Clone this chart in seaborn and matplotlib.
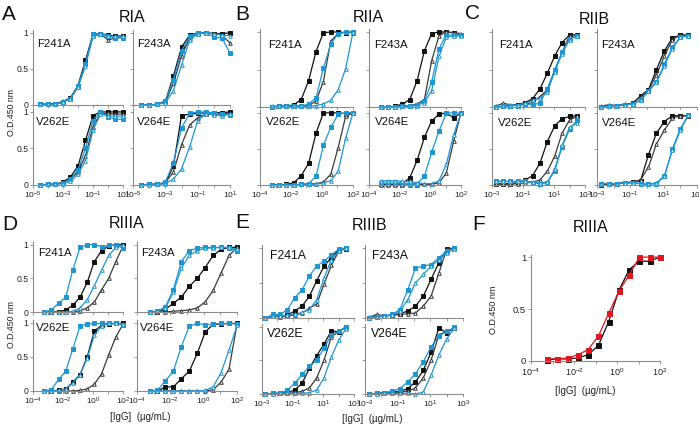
import matplotlib
matplotlib.use("Agg")
import matplotlib.pyplot as plt
import seaborn as sns
from matplotlib import font_manager

W, H = 699, 426

# ---------------- concentrations (ug/mL) ----------------
CONC_A = [0.0000316, 0.0001, 0.000316, 0.001, 0.00316, 0.01, 0.0316, 0.1, 0.316, 1.0, 3.16, 10.0]
CONC_100 = [0.000565, 0.00169, 0.00508, 0.0152, 0.0457, 0.137, 0.412, 1.23, 3.70, 11.1, 33.3, 100.0]
CONC_300 = [0.00169, 0.00508, 0.0152, 0.0457, 0.137, 0.412, 1.23, 3.70, 11.1, 33.3, 100.0, 300.0]

MUTANTS = ["F241A", "F243A", "V262E", "V264E"]
# series order in every sub-panel: black filled, black open, blue filled, blue open

# ---------------- A: RIA ----------------
A_F241A = [[0.01, 0.01, 0.02, 0.04, 0.10, 0.27, 0.62, 0.98, 0.99, 0.97, 0.95, 0.96],
           [0.01, 0.01, 0.02, 0.05, 0.10, 0.25, 0.58, 0.95, 0.99, 0.90, 0.93, 0.95],
           [0.01, 0.01, 0.01, 0.04, 0.09, 0.26, 0.57, 0.99, 0.99, 0.96, 0.93, 0.93],
           [0.01, 0.01, 0.01, 0.04, 0.09, 0.25, 0.54, 0.96, 0.99, 0.95, 0.95, 0.96]]
A_F243A = [[0.0, 0.0, 0.01, 0.05, 0.40, 0.80, 0.97, 1.0, 1.0, 0.99, 0.99, 1.0],
           [0.0, 0.0, 0.01, 0.04, 0.30, 0.68, 0.93, 0.99, 1.0, 0.99, 0.97, 0.86],
           [0.0, 0.0, 0.01, 0.06, 0.35, 0.75, 0.95, 1.0, 1.0, 0.94, 0.93, 0.72],
           [0.0, 0.0, 0.01, 0.03, 0.20, 0.55, 0.90, 0.99, 1.0, 0.99, 0.97, 0.96]]
A_V262E = [[0.0, 0.01, 0.01, 0.04, 0.11, 0.26, 0.61, 0.95, 1.0, 1.0, 1.0, 1.0],
           [0.0, 0.01, 0.01, 0.03, 0.08, 0.18, 0.40, 0.80, 0.98, 0.98, 0.97, 0.97],
           [0.0, 0.01, 0.01, 0.03, 0.08, 0.21, 0.50, 0.88, 1.0, 0.93, 0.90, 0.90],
           [0.0, 0.01, 0.01, 0.02, 0.05, 0.15, 0.33, 0.75, 0.97, 0.95, 0.94, 0.94]]
A_V264E = [[0.0, 0.01, 0.01, 0.03, 0.26, 0.95, 0.97, 0.98, 0.99, 0.99, 0.99, 1.0],
           [0.0, 0.01, 0.01, 0.03, 0.18, 0.55, 0.82, 0.92, 0.97, 0.97, 0.97, 0.98],
           [0.0, 0.01, 0.01, 0.04, 0.30, 0.78, 0.98, 1.0, 1.0, 0.99, 0.97, 0.96],
           [0.0, 0.0, 0.01, 0.02, 0.08, 0.22, 0.52, 0.88, 0.97, 0.96, 0.95, 0.97]]

# ---------------- B: RIIA ----------------
B_F241A = [[0.0, 0.01, 0.01, 0.03, 0.10, 0.35, 0.74, 0.99, 1.0, 1.0, 0.99, 1.0],
           [0.0, 0.01, 0.01, 0.01, 0.01, 0.02, 0.08, 0.34, 0.88, 0.98, 1.0, 0.99],
           [0.0, 0.01, 0.01, 0.01, 0.01, 0.04, 0.12, 0.52, 0.84, 0.98, 1.0, 1.0],
           [0.01, 0.01, 0.01, 0.01, 0.01, 0.01, 0.02, 0.04, 0.09, 0.23, 0.51, 1.0]]
B_F243A = [[0.0, 0.0, 0.01, 0.04, 0.10, 0.35, 0.75, 0.98, 1.0, 1.0, 0.99, 0.96],
           [0.0, 0.0, 0.0, 0.01, 0.02, 0.04, 0.10, 0.62, 0.95, 1.0, 0.99, 0.98],
           [0.0, 0.0, 0.0, 0.01, 0.02, 0.03, 0.08, 0.34, 0.78, 0.96, 0.96, 0.96],
           [0.0, 0.0, 0.0, 0.01, 0.01, 0.02, 0.06, 0.22, 0.68, 0.93, 0.95, 0.95]]
B_V262E = [[0.0, 0.0, 0.01, 0.03, 0.13, 0.30, 0.72, 1.0, 1.0, 1.0, 0.99, 1.0],
           [0.0, 0.0, 0.0, 0.0, 0.01, 0.01, 0.02, 0.04, 0.15, 0.52, 0.95, 1.0],
           [0.0, 0.0, 0.0, 0.0, 0.01, 0.02, 0.12, 0.55, 0.80, 0.98, 1.0, 1.0],
           [0.0, 0.0, 0.0, 0.0, 0.01, 0.01, 0.01, 0.03, 0.06, 0.19, 0.65, 1.0]]
B_V264E = [[0.01, 0.01, 0.01, 0.02, 0.10, 0.34, 0.66, 0.89, 0.98, 1.0, 0.93, 1.0],
           [0.0, 0.0, 0.0, 0.0, 0.0, 0.0, 0.01, 0.01, 0.03, 0.17, 0.61, 1.0],
           [0.03, 0.03, 0.03, 0.03, 0.02, 0.02, 0.12, 0.46, 0.75, 1.0, 1.0, 1.0],
           [0.06, 0.06, 0.06, 0.05, 0.05, 0.03, 0.02, 0.02, 0.06, 0.29, 0.70, 1.0]]

# ---------------- C: RIIB ----------------
C_F241A = [[0.0, 0.01, 0.02, 0.03, 0.06, 0.11, 0.24, 0.45, 0.68, 0.86, 0.96, 0.96],
           [0.01, 0.05, 0.03, 0.03, 0.04, 0.06, 0.14, 0.23, 0.48, 0.73, 0.95, 0.96],
           [0.0, 0.01, 0.02, 0.02, 0.03, 0.03, 0.05, 0.24, 0.50, 0.73, 0.91, 0.95],
           [0.0, 0.01, 0.02, 0.03, 0.05, 0.09, 0.12, 0.20, 0.47, 0.71, 0.90, 0.95]]
C_F243A = [[0.0, 0.02, 0.02, 0.03, 0.05, 0.15, 0.23, 0.50, 0.75, 0.92, 0.96, 0.96],
           [0.01, 0.03, 0.02, 0.04, 0.05, 0.14, 0.22, 0.43, 0.68, 0.90, 0.96, 0.96],
           [0.0, 0.01, 0.02, 0.03, 0.04, 0.10, 0.22, 0.34, 0.57, 0.80, 0.93, 0.95],
           [0.0, 0.01, 0.02, 0.03, 0.04, 0.09, 0.21, 0.33, 0.55, 0.78, 0.93, 0.95]]
C_V262E = [[0.02, 0.02, 0.02, 0.03, 0.07, 0.13, 0.30, 0.60, 0.82, 0.92, 0.95, 0.96],
           [0.01, 0.01, 0.01, 0.02, 0.03, 0.04, 0.07, 0.19, 0.40, 0.72, 0.90, 0.95],
           [0.05, 0.05, 0.05, 0.05, 0.05, 0.03, 0.02, 0.03, 0.20, 0.53, 0.77, 0.90],
           [0.05, 0.05, 0.05, 0.05, 0.05, 0.04, 0.03, 0.04, 0.22, 0.55, 0.80, 0.86]]
C_V264E = [[0.0, 0.01, 0.02, 0.03, 0.04, 0.06, 0.42, 0.72, 0.88, 0.96, 0.96, 0.96],
           [0.0, 0.01, 0.02, 0.03, 0.04, 0.07, 0.25, 0.57, 0.76, 0.93, 0.96, 0.96],
           [0.02, 0.02, 0.02, 0.03, 0.03, 0.02, 0.01, 0.02, 0.12, 0.50, 0.78, 0.97],
           [0.02, 0.02, 0.02, 0.03, 0.03, 0.02, 0.01, 0.03, 0.13, 0.48, 0.76, 0.97]]

# ---------------- D: RIIIA ----------------
D_F241A = [[0.0, 0.0, 0.0, 0.03, 0.10, 0.22, 0.44, 0.75, 0.91, 0.98, 1.0, 1.0],
           [0.0, 0.0, 0.0, 0.0, 0.0, 0.02, 0.06, 0.15, 0.33, 0.50, 0.75, 0.98],
           [0.0, 0.03, 0.13, 0.22, 0.63, 0.96, 1.0, 1.0, 0.97, 0.99, 0.99, 0.95],
           [0.0, 0.0, 0.0, 0.0, 0.01, 0.06, 0.18, 0.39, 0.62, 0.84, 0.96, 1.0]]
D_F243A = [[0.0, 0.0, 0.04, 0.13, 0.22, 0.38, 0.50, 0.66, 0.84, 0.93, 0.96, 0.96],
           [0.0, 0.0, 0.0, 0.01, 0.02, 0.03, 0.06, 0.15, 0.32, 0.58, 0.84, 0.96],
           [0.0, 0.01, 0.08, 0.33, 0.75, 0.91, 0.95, 0.96, 0.96, 0.96, 0.95, 0.90],
           [0.0, 0.01, 0.06, 0.30, 0.65, 0.84, 0.91, 0.95, 0.95, 0.96, 0.96, 0.93]]
D_V262E = [[0.0, 0.0, 0.01, 0.03, 0.13, 0.24, 0.50, 0.88, 0.96, 0.98, 0.99, 0.99],
           [0.0, 0.0, 0.0, 0.0, 0.0, 0.01, 0.03, 0.10, 0.25, 0.53, 0.79, 0.98],
           [0.0, 0.02, 0.17, 0.29, 0.62, 0.95, 0.98, 0.99, 0.99, 0.99, 0.99, 0.96],
           [0.0, 0.0, 0.01, 0.03, 0.12, 0.24, 0.48, 0.82, 0.95, 0.99, 0.99, 0.98]]
D_V264E = [[0.0, 0.0, 0.06, 0.06, 0.18, 0.29, 0.55, 0.86, 0.98, 0.98, 0.99, 0.99],
           [0.0, 0.0, 0.0, 0.0, 0.0, 0.0, 0.0, 0.0, 0.02, 0.13, 0.32, 0.98],
           [0.0, 0.01, 0.15, 0.29, 0.65, 0.95, 0.99, 0.97, 0.98, 0.99, 0.99, 0.98],
           [0.0, 0.0, 0.0, 0.0, 0.0, 0.0, 0.0, 0.01, 0.06, 0.27, 0.60, 0.96]]

# ---------------- E: RIIIB ----------------
E_F241A = [[0.0, 0.03, 0.03, 0.04, 0.10, 0.17, 0.31, 0.53, 0.74, 0.86, 0.97, 0.99],
           [0.0, 0.03, 0.02, 0.03, 0.04, 0.07, 0.14, 0.20, 0.48, 0.75, 0.95, 0.99],
           [0.0, 0.05, 0.05, 0.12, 0.29, 0.40, 0.60, 0.74, 0.81, 0.90, 0.98, 1.0],
           [0.0, 0.03, 0.03, 0.04, 0.05, 0.08, 0.12, 0.26, 0.57, 0.83, 0.95, 1.0]]
E_F243A = [[0.0, 0.02, 0.03, 0.04, 0.06, 0.10, 0.17, 0.31, 0.55, 0.79, 0.98, 1.0],
           [0.01, 0.05, 0.03, 0.04, 0.05, 0.06, 0.07, 0.17, 0.31, 0.64, 0.98, 0.99],
           [0.0, 0.02, 0.03, 0.05, 0.12, 0.40, 0.71, 0.74, 0.76, 0.86, 0.95, 1.0],
           [0.0, 0.02, 0.03, 0.04, 0.10, 0.26, 0.50, 0.62, 0.74, 0.83, 0.93, 0.99]]
E_V262E = [[0.0, 0.01, 0.01, 0.02, 0.06, 0.16, 0.38, 0.57, 0.74, 0.94, 0.92, 1.0],
           [0.0, 0.01, 0.01, 0.01, 0.02, 0.04, 0.09, 0.24, 0.50, 0.85, 0.93, 0.99],
           [0.0, 0.01, 0.01, 0.06, 0.16, 0.29, 0.41, 0.50, 0.68, 0.88, 0.93, 1.0],
           [0.0, 0.0, 0.01, 0.01, 0.01, 0.01, 0.02, 0.06, 0.24, 0.55, 0.80, 0.97]]
E_V264E = [[0.0, 0.01, 0.02, 0.03, 0.04, 0.08, 0.18, 0.35, 0.62, 0.98, 0.91, 0.98],
           [0.0, 0.01, 0.01, 0.02, 0.03, 0.04, 0.09, 0.24, 0.50, 0.88, 0.93, 0.98],
           [0.0, 0.01, 0.02, 0.04, 0.08, 0.18, 0.30, 0.48, 0.70, 0.86, 0.93, 0.99],
           [0.0, 0.0, 0.01, 0.01, 0.01, 0.01, 0.0, 0.03, 0.28, 0.58, 0.82, 0.98]]

# ---------------- F: RIIIA, two curves ----------------
F_BLACK = [0.01, 0.02, 0.02, 0.03, 0.06, 0.15, 0.38, 0.68, 0.88, 0.96, 0.96, 1.0]
F_RED = [0.02, 0.02, 0.03, 0.06, 0.11, 0.24, 0.46, 0.67, 0.83, 1.0, 1.0, 1.0]

TICKS_A = [-5, -3, -1, 1]
TICKS_B = [-4, -2, 0, 2]
TICKS_C = [-3, -1, 1, 3]

BLACK = "#111111"
GREY = "#3a3a3a"
BLUE = "#1e96d2"
RED = "#e0161e"
AXIS_C = "#8c8c8c"

STYLES = [
    dict(color=BLACK, marker="s", mfc=BLACK),
    dict(color=GREY, marker="^", mfc="white"),
    dict(color=BLUE, marker="s", mfc=BLUE),
    dict(color=BLUE, marker="^", mfc="white"),
]


def pick_font(name, fallback):
    try:
        font_manager.findfont(font_manager.FontProperties(family=name), fallback_to_default=False)
        return name
    except Exception:
        return fallback


sns.set_theme(style="ticks")
plt.rcParams["font.family"] = ["Liberation Sans", "DejaVu Sans"]
plt.rcParams["mathtext.fontset"] = "custom"
plt.rcParams["mathtext.rm"] = "Liberation Sans"
plt.rcParams["mathtext.it"] = "Liberation Sans:italic"
plt.rcParams["mathtext.bf"] = "Liberation Sans:bold"

NARROW = pick_font("Liberation Sans Narrow", "Liberation Sans")
NARROW_SIZE = 9 if NARROW != "Liberation Sans" else 8.2

fig = plt.figure(figsize=(W / 100, H / 100), dpi=100)
fig.patch.set_facecolor("white")


def px_axes(l, t, r, b):
    return fig.add_axes([l / W, 1 - b / H, (r - l) / W, (b - t) / H])


def fig_text(x, y, s, **kw):
    fig.text(x / W, 1 - y / H, s, **kw)


def style_axes(ax, ticks, show_x, show_y, ysize=6.2, ylim_top=1.04):
    ax.set_xscale("log")
    ax.set_xlim(10.0 ** ticks[0], 10.0 ** ticks[-1])
    ax.set_ylim(0, ylim_top)
    decades = list(range(ticks[0], ticks[-1] + 1))
    ax.set_xticks([10.0 ** d for d in decades])
    ax.xaxis.set_minor_locator(matplotlib.ticker.NullLocator())
    if show_x:
        ax.set_xticklabels([r"$\mathregular{10^{%d}}$" % d if d in ticks else "" for d in decades])
    else:
        ax.set_xticklabels([])
    ax.set_yticks([0, 0.5, 1])
    ax.set_yticklabels(["0", "0.5", "1"] if show_y else [])
    for side in ["top", "right"]:
        ax.spines[side].set_visible(False)
    for side in ["left", "bottom"]:
        ax.spines[side].set_color(AXIS_C)
        ax.spines[side].set_linewidth(0.8)
    ax.tick_params(axis="x", length=2.5, width=0.6, color=AXIS_C, labelsize=6, pad=1, labelcolor="#222222")
    ax.tick_params(axis="y", length=2.5, width=0.6, color=AXIS_C, labelsize=ysize, pad=1, labelcolor="#222222")
    ax.set_facecolor("white")
    ax.set_xlabel("")
    ax.set_ylabel("")


def draw_series(ax, conc, vals, st, ms=2.6):
    sns.lineplot(x=conc, y=vals, ax=ax, color=st["color"], marker=st["marker"],
                 markersize=ms, markerfacecolor=st["mfc"], markeredgecolor=st["color"],
                 markeredgewidth=0.7, linewidth=0.9, clip_on=False, legend=False)


# panel specs: letter, title, conc, ticks, data, boxes, ylabels shown, label font, label offsets
PANELS = [
    dict(letter="A", lpos=(2, 5), title="RIA", tpos=(132, 18), conc=CONC_A, ticks=TICKS_A,
         data=[A_F241A, A_F243A, A_V262E, A_V264E],
         boxes=[(33, 30, 123, 105), (133, 30, 230, 105), (33, 109, 123, 185), (133, 109, 230, 185)],
         show_y=True, font=NARROW, fsize=NARROW_SIZE, offs=[(4, 9), (4, 9), (3, 8), (4, 8)]),
    dict(letter="B", lpos=(235, 5), title="RIIA", tpos=(368, 18), conc=CONC_100, ticks=TICKS_B,
         data=[B_F241A, B_F243A, B_V262E, B_V264E],
         boxes=[(260, 29, 353, 107), (369, 29, 461, 107), (260, 110, 353, 185), (369, 110, 461, 185)],
         show_y=False, font=NARROW, fsize=NARROW_SIZE, offs=[(8, 11), (5, 11), (6, 7), (6, 7)]),
    dict(letter="C", lpos=(465, 4), title="RIIB", tpos=(594, 20), conc=CONC_300, ticks=TICKS_C,
         data=[C_F241A, C_F243A, C_V262E, C_V264E],
         boxes=[(492, 29, 585, 107), (597, 29, 697, 107), (492, 110, 585, 185), (597, 110, 697, 185)],
         show_y=False, font=NARROW, fsize=NARROW_SIZE, offs=[(7, 11), (4, 11), (6, 8), (5, 8)]),
    dict(letter="D", lpos=(2, 215), title="RIIIA", tpos=(127, 223), conc=CONC_100, ticks=TICKS_B,
         data=[D_F241A, D_F243A, D_V262E, D_V264E],
         boxes=[(33, 242, 123, 312), (137, 242, 237, 312), (33, 320, 123, 391), (137, 320, 237, 391)],
         show_y=True, font=NARROW, fsize=NARROW_SIZE, offs=[(5, 6), (4, 6), (3, 3), (3, 3)]),
    dict(letter="E", lpos=(235, 213), title="RIIIB", tpos=(370, 226), conc=CONC_300, ticks=TICKS_C,
         data=[E_F241A, E_F243A, E_V262E, E_V264E],
         boxes=[(262, 245, 354, 318), (365, 245, 463, 318), (262, 324, 354, 394), (365, 324, 463, 394)],
         show_y=False, font="Liberation Sans", fsize=8.8, offs=[(8, 5), (7, 5), (5, 4), (6, 4)]),
]

for p in PANELS:
    fig_text(*p["lpos"], p["letter"], fontsize=15, ha="left", va="top", color="#111111")
    fig_text(*p["tpos"], p["title"], fontsize=11.5, ha="center", va="center", color="#111111")
    for i, (box, sub, name) in enumerate(zip(p["boxes"], p["data"], MUTANTS)):
        ax = px_axes(*box)
        for vals, st in zip(sub, STYLES):
            draw_series(ax, p["conc"], vals, st)
        style_axes(ax, p["ticks"], show_x=i >= 2, show_y=p["show_y"] and i % 2 == 0)
        dx, dy = p["offs"][i]
        ax.annotate(name, xy=(0, 1), xycoords="axes fraction", xytext=(dx, -dy),
                    textcoords="offset pixels", ha="left", va="top",
                    fontsize=p["fsize"], family=[p["font"], "DejaVu Sans"], color="#111111")

# axis titles shared by the small panels
fig_text(12, 112, "O.D.450 nm", rotation=90, fontsize=6.3, ha="center", va="center", color="#222222")
fig_text(12, 324, "O.D.450 nm", rotation=90, fontsize=6.3, ha="center", va="center", color="#222222")
fig_text(140, 417, "[IgG]  (\u00b5g/mL)", fontsize=7, ha="center", va="center", color="#222222")
fig_text(372, 419, "[IgG]  (\u00b5g/mL)", fontsize=7, ha="center", va="center", color="#222222")

# ---------------- F ----------------
fig_text(472, 215, "F", fontsize=15, ha="left", va="top", color="#111111")
fig_text(591, 227, "RIIIA", fontsize=11.5, ha="center", va="center", color="#111111")
axf = px_axes(531, 255, 660, 361)
draw_series(axf, CONC_100, F_BLACK, dict(color=BLACK, marker="s", mfc=BLACK), ms=3.6)
draw_series(axf, CONC_100, F_RED, dict(color=RED, marker="s", mfc=RED), ms=3.6)
style_axes(axf, TICKS_B, show_x=True, show_y=True, ysize=6.8, ylim_top=1.02)
axf.tick_params(axis="x", labelsize=6.5)
fig_text(493, 310, "O.D.450 nm", rotation=90, fontsize=6.5, ha="center", va="center", color="#222222")
fig_text(585, 391, "[IgG]  (\u00b5g/mL)", fontsize=7, ha="center", va="center", color="#222222")

fig.savefig("out.png", dpi=100)
